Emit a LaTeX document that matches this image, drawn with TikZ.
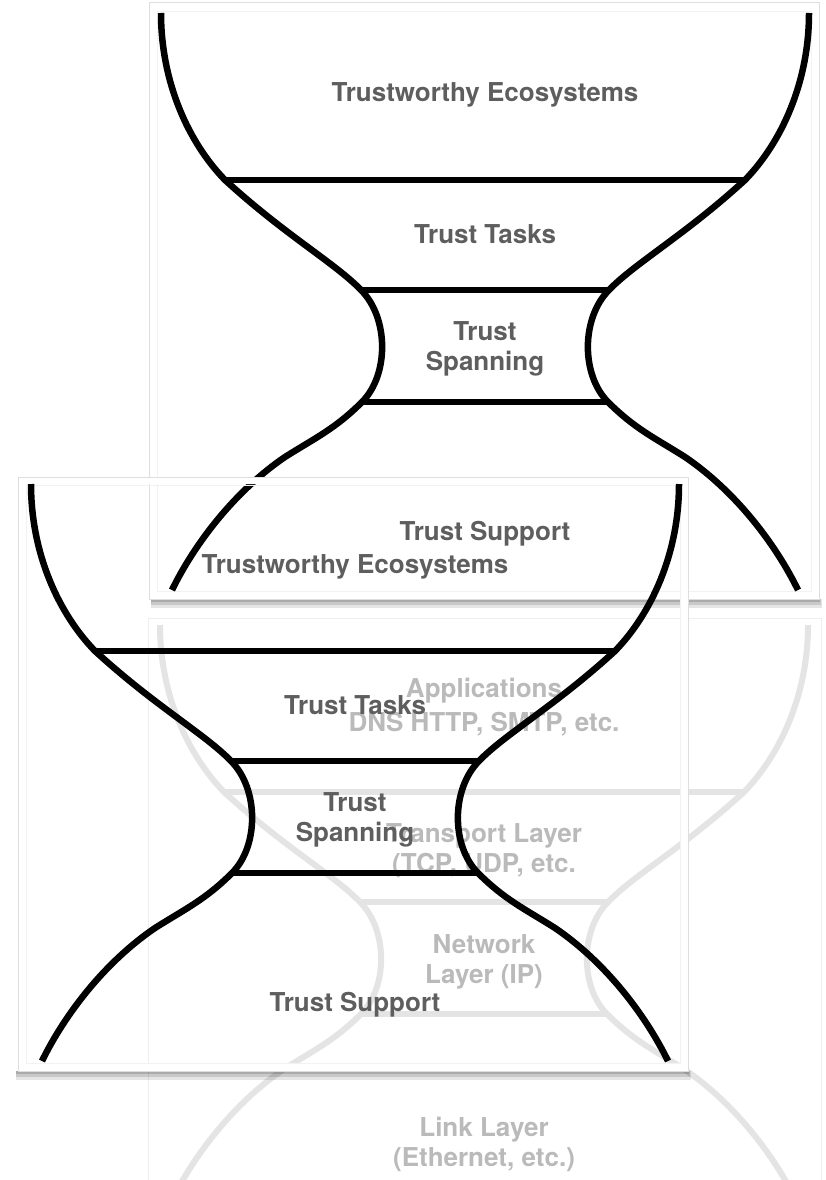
\documentclass[tikz,border=0pt]{standalone}
\usepackage{fontspec}
\setmainfont{TeX Gyre Heros}
\usepackage{xcolor}
\usepackage{tikz}

\definecolor{labelgray}{RGB}{94,94,94}
\definecolor{fadetext}{RGB}{186,186,186}
\definecolor{fadeline}{RGB}{228,228,228}
\definecolor{cardedge}{RGB}{222,222,222}
\definecolor{cardinner}{RGB}{242,242,242}

\tikzset{
	glassline/.style={line width=6.5pt,black},
	fadedline/.style={line width=6pt,fadeline},
	layerlabel/.style={font=\fontsize{26}{30}\selectfont\bfseries,text=labelgray,align=center,anchor=base,inner sep=0pt},
	fadedlabel/.style={layerlabel,text=fadetext},
	card/.style={fill=white,draw=cardedge,line width=1pt},
}

% one side of an hourglass, origin at the top centre
\newcommand{\glasshalf}[2]{%
	\draw[#1] (-324,0) .. controls (-324,70) and (-296,130) .. (-260,167) coordinate (top#2)
	.. controls (-200,222) and (-150,250) .. (-124,277) coordinate (mid#2)
	.. controls (-96,305) and (-96,362) .. (-123,389) coordinate (low#2)
	.. controls (-150,416) and (-170,425) .. (-200,444)
	.. controls (-250,478) and (-290,530) .. (-313,577);
}
\newcommand{\hourglass}[1]{%
	\glasshalf{#1}{L}
	\begin{scope}[xscale=-1]
		\glasshalf{#1}{R}
	\end{scope}
	\draw[#1] (topL) -- (topR);
	\draw[#1] (midL) -- (midR);
	\draw[#1] (lowL) -- (lowR);
}
\newcommand{\cardshadow}[3]{%
	\fill[black,opacity=.10] (#1,#3) rectangle (#2+3,#3+9);
	\fill[black,opacity=.12] (#1,#3) rectangle (#2+2,#3+6);
	\fill[black,opacity=.15] (#1,#3) rectangle (#2+1,#3+3);
}

\begin{document}
\begin{tikzpicture}[x=1pt,y=-1pt]
		\useasboundingbox (0,0) rectangle (825,1180);
		% internet hourglass in the back
		\fill[white] (148,618) rectangle (821,1200);
		\draw[cardedge!50,line width=1pt] (148,1200) -- (148,618) -- (821,618) -- (821,1200);
		\begin{scope}[shift={(484,625)}]
			\hourglass{fadedline}
		\end{scope}
		\node[fadedlabel] (appsC) at (484,731) {Applications\\[4pt]DNS HTTP, SMTP, etc.};
		\node[fadedlabel] (transportC) at (484,872) {Transport Layer\\(TCP, UDP, etc.};
		\node[fadedlabel] (networkC) at (484,983) {Network\\Layer (IP)};
		\node[fadedlabel] (linkC) at (484,1166) {Link Layer\\(Ethernet, etc.)};
		% upper card
		\cardshadow{151}{819}{599}
		\draw[card] (149,3) rectangle (819,599);
		\draw[cardinner] (157,11) rectangle (811,591);
		\begin{scope}[shift={(485,13)}]
			\hourglass{glassline}
		\end{scope}
		\node[layerlabel] (ecoA) at (485,102) {Trustworthy Ecosystems};
		\node[layerlabel] (tasksA) at (485,243) {Trust Tasks};
		\node[layerlabel] (spanA) at (485,370) {Trust\\Spanning};
		\node[layerlabel] (supportA) at (485,540) {Trust Support};
		% lower card, open in the middle
		\cardshadow{16}{688}{1071}
		\fill[white,even odd rule] (18,477) rectangle (688,1071) (25,484) rectangle (681,1064);
		\draw[cardedge,line width=1pt] (18,477) rectangle (688,1071);
		\draw[cardinner] (26,485) rectangle (680,1063);
		\begin{scope}[shift={(355,484)}]
			\hourglass{glassline}
		\end{scope}
		\node[layerlabel] (ecoB) at (355,573) {Trustworthy Ecosystems};
		\node[layerlabel] (tasksB) at (355,714) {Trust Tasks};
		\node[layerlabel] (spanB) at (355,841) {Trust\\Spanning};
		\node[layerlabel] (supportB) at (355,1011) {Trust Support};
	\end{tikzpicture}
\end{document}
